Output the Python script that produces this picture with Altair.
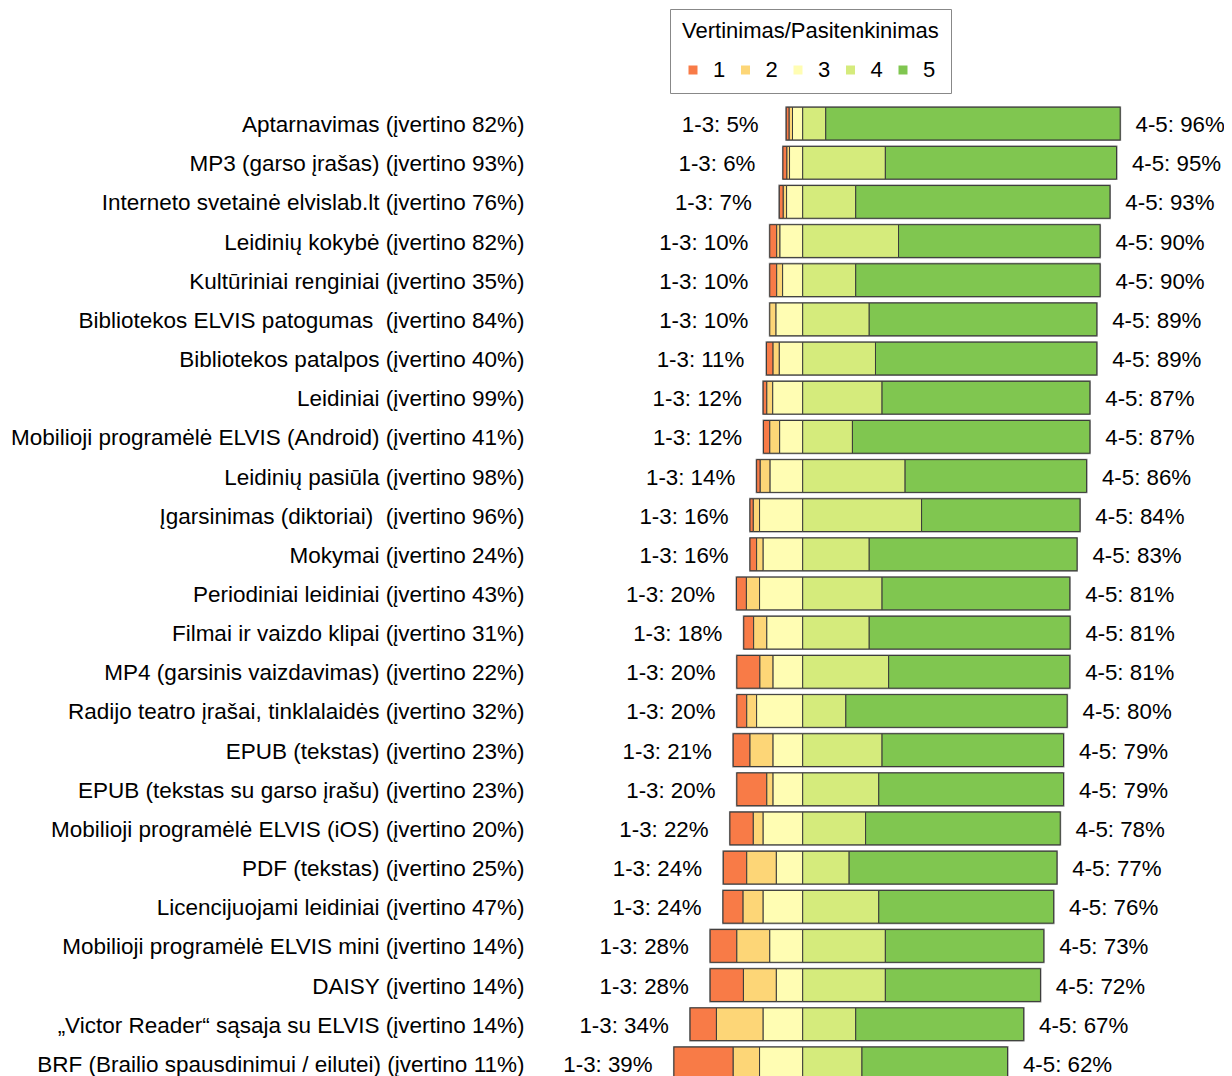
import altair as alt
import pandas as pd

categories = [
    "Aptarnavimas (įvertino 82%)",
    "MP3 (garso įrašas) (įvertino 93%)",
    "Interneto svetainė elvislab.lt (įvertino 76%)",
    "Leidinių kokybė (įvertino 82%)",
    "Kultūriniai renginiai (įvertino 35%)",
    "Bibliotekos ELVIS patogumas\u00a0 (įvertino 84%)",
    "Bibliotekos patalpos (įvertino 40%)",
    "Leidiniai (įvertino 99%)",
    "Mobilioji programėlė ELVIS (Android) (įvertino 41%)",
    "Leidinių pasiūla (įvertino 98%)",
    "Įgarsinimas (diktoriai)\u00a0 (įvertino 96%)",
    "Mokymai (įvertino 24%)",
    "Periodiniai leidiniai (įvertino 43%)",
    "Filmai ir vaizdo klipai (įvertino 31%)",
    "MP4 (garsinis vaizdavimas) (įvertino 22%)",
    "Radijo teatro įrašai, tinklalaidės (įvertino 32%)",
    "EPUB (tekstas) (įvertino 23%)",
    "EPUB (tekstas su garso įrašu) (įvertino 23%)",
    "Mobilioji programėlė ELVIS (iOS) (įvertino 20%)",
    "PDF (tekstas) (įvertino 25%)",
    "Licencijuojami leidiniai (įvertino 47%)",
    "Mobilioji programėlė ELVIS mini (įvertino 14%)",
    "DAISY (įvertino 14%)",
    "„Victor Reader“ sąsaja su ELVIS (įvertino 14%)",
    "BRF (Brailio spausdinimui / eilutei) (įvertino 11%)",
]

p1 = [0.9, 1.2, 1.2, 2.1, 2.1, 0.0, 2.0, 1.1, 1.9, 1.1, 1.0, 2.0, 3.0, 3.0, 7.0,
      3.0, 5.1, 9.1, 7.1, 7.1, 6.1, 8.1, 10.1, 8.0, 18.0]
p2 = [1.0, 0.8, 1.0, 1.0, 1.8, 1.9, 1.9, 1.8, 3.0, 3.0, 1.9, 2.0, 4.0, 4.0, 4.0,
      3.0, 7.0, 1.9, 3.0, 9.0, 6.1, 10.0, 10.0, 14.2, 8.0]
p3 = [3.1, 4.0, 4.9, 6.9, 6.1, 8.1, 7.1, 9.1, 7.0, 9.9, 13.1, 12.0, 13.1, 10.9, 9.0,
      14.0, 9.0, 9.0, 12.0, 8.0, 12.0, 10.0, 8.0, 12.0, 13.1]
p4 = [7.0, 25.1, 16.1, 29.1, 16.1, 20.2, 22.1, 24.1, 15.1, 31.1, 36.1, 20.2, 24.1, 20.2, 26.1,
      13.1, 24.1, 23.1, 19.1, 14.1, 23.1, 25.1, 25.1, 16.1, 18.0]
p5 = [89.4, 70.2, 77.2, 61.2, 74.2, 69.1, 67.2, 63.1, 72.1, 55.1, 48.1, 63.1, 57.0, 61.0, 55.0,
      67.2, 55.1, 56.1, 59.1, 63.1, 53.1, 48.1, 47.1, 51.0, 44.2]

low_pct = [5, 6, 7, 10, 10, 10, 11, 12, 12, 14, 16, 16, 20, 18, 20, 20, 21, 20, 22, 24, 24, 28, 28, 34, 39]
high_pct = [96, 95, 93, 90, 90, 89, 89, 87, 87, 86, 84, 83, 81, 81, 81, 80, 79, 79, 78, 77, 76, 73, 72, 67, 62]

levels = ["1", "2", "3", "4", "5"]
colors = ["#F87B47", "#FDD677", "#FFFDB3", "#D5EB7C", "#80C650"]

seg_rows = []
tot_rows = []
for i, cat in enumerate(categories):
    left = -(p1[i] + p2[i] + p3[i])
    right = p4[i] + p5[i]
    bounds = [
        ("1", left, left + p1[i]),
        ("2", left + p1[i], left + p1[i] + p2[i]),
        ("3", -p3[i], 0.0),
        ("4", 0.0, p4[i]),
        ("5", p4[i], right),
    ]
    for lvl, a, b in bounds:
        if b - a > 0:
            seg_rows.append({"cat": cat, "level": lvl, "x": a, "x2": b})
    tot_rows.append({
        "cat": cat, "lx": left, "rx": right,
        "ltext": f"1-3: {low_pct[i]}%", "rtext": f"4-5: {high_pct[i]}%",
    })

seg = pd.DataFrame(seg_rows)
tot = pd.DataFrame(tot_rows)

yenc = alt.Y(
    "cat:N", sort=categories, title=None,
    scale=alt.Scale(paddingInner=0.165, paddingOuter=0.0825),
    axis=alt.Axis(labelFontSize=22.5, labelPadding=147, ticks=False, domain=False,
                  labelLimit=0, labelColor="black", grid=False, labelOffset=1.5),
)
xscale = alt.Scale(domain=[-40, 100], nice=False, zero=False)

outline = alt.Chart(tot).mark_bar(fill=None, stroke="#8a8a8a", strokeWidth=2).encode(
    y=yenc,
    x=alt.X("lx:Q", scale=xscale, axis=None),
    x2="rx:Q",
)

bars = alt.Chart(seg).mark_bar(stroke="#3a3a3a", strokeWidth=1).encode(
    y=yenc,
    x=alt.X("x:Q", scale=xscale, axis=None),
    x2="x2:Q",
    color=alt.Color(
        "level:N",
        scale=alt.Scale(domain=levels, range=colors),
        legend=alt.Legend(
            title="Vertinimas/Pasitenkinimas", orient="none", direction="horizontal",
            legendX=-1, legendY=-95, titleFontSize=22, titleFontWeight="normal",
            titleColor="black", titleLimit=0, labelFontSize=22, labelColor="black",
            symbolType="square", symbolSize=81, symbolStrokeWidth=0,
            strokeColor="#888888", padding=12, columnPadding=8.5, labelOffset=9,
            titlePadding=16,
        ),
    ),
)

ltext = alt.Chart(tot).mark_text(align="center", baseline="middle", dx=-66, dy=1.5,
                                 fontSize=22.3, color="black").encode(
    y=yenc, x=alt.X("lx:Q", scale=xscale, axis=None), text="ltext:N")
rtext = alt.Chart(tot).mark_text(align="center", baseline="middle", dx=60, dy=1.5,
                                 fontSize=22.3, color="black").encode(
    y=yenc, x=alt.X("rx:Q", scale=xscale, axis=None), text="rtext:N")

chart = alt.layer(outline, bars, ltext, rtext).properties(
    width=461, height=979,
    autosize=alt.AutoSizeParams(type="none"),
    padding={"left": 663, "top": 96, "right": 92, "bottom": 10},
).configure(font="Liberation Sans", background="white").configure_view(stroke=None)

chart.save("out.html", embed_options={"renderer": "svg", "actions": False})
